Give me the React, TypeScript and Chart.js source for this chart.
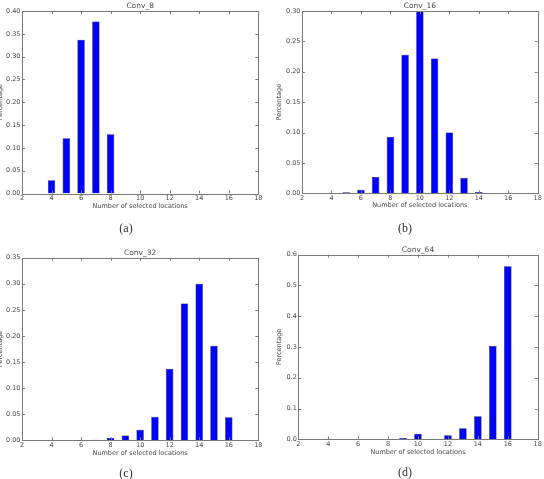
import React, { useEffect, useRef } from "react";
import { Chart, registerables } from "chart.js";

Chart.register(...registerables);

// ---- data ----
const locations = [4, 5, 6, 7, 8, 9, 10, 11, 12, 13, 14, 15, 16];
const conv8 = [0.029, 0.121, 0.337, 0.377, 0.13, 0, 0, 0, 0, 0, 0, 0, 0];
const conv16 = [0.0005, 0.0016, 0.006, 0.027, 0.093, 0.228, 0.3, 0.222, 0.1, 0.025, 0.002, 0, 0];
const conv32 = [0.0005, 0, 0.0005, 0.001, 0.004, 0.009, 0.02, 0.045, 0.137, 0.262, 0.3, 0.181, 0.044];
const conv64 = [0.002, 0, 0, 0, 0.001, 0.004, 0.018, 0.002, 0.013, 0.036, 0.075, 0.303, 0.5625];

const xTicks = [2, 4, 6, 8, 10, 12, 14, 16, 18];
const yTicks8 = [0, 0.05, 0.1, 0.15, 0.2, 0.25, 0.3, 0.35, 0.4];
const yTicks16 = [0, 0.05, 0.1, 0.15, 0.2, 0.25, 0.3];
const yTicks32 = [0, 0.05, 0.1, 0.15, 0.2, 0.25, 0.3, 0.35];
const yTicks64 = [0, 0.1, 0.2, 0.3, 0.4, 0.5, 0.6];

const titles = ["Conv_8", "Conv_16", "Conv_32", "Conv_64"];
const captions = ["(a)", "(b)", "(c)", "(d)"];
const xTitle = "Number of selected locations";
const yTitle = "Percentage";

// ---- styles ----
const FONT = "'DejaVu Sans', sans-serif";
const TXT = "#4a4a4a";
const FRAME = "#7a7a7a";
const BAR = "#0000ff";

type Panel = {
  title: string;
  values: number[];
  yTicks: number[];
  decimals: number;
  canvas: { x: number; y: number; w: number; h: number };
  yW: number;
  padRight: number;
  padTop: number;
  titleGap: number;
  xH: number;
  padBottom: number;
  yTitlePad: number;
  caption: string;
  captionX: number;
  captionY: number;
};

const panels: Panel[] = [
  {
    title: titles[0], values: conv8, yTicks: yTicks8, decimals: 2,
    canvas: { x: 0, y: 0, w: 272, h: 240 },
    yW: 22, padRight: 13.7, padTop: 1.5, titleGap: 0.5, xH: 17, padBottom: 29.5, yTitlePad: -3.4,
    caption: captions[0], captionX: 126, captionY: 228,
  },
  {
    title: titles[1], values: conv16, yTicks: yTicks16, decimals: 2,
    canvas: { x: 272, y: 0, w: 272, h: 240 },
    yW: 30, padRight: 6.3, padTop: 1.2, titleGap: 0.8, xH: 17, padBottom: 29.7, yTitlePad: 3.6,
    caption: captions[1], captionX: 405, captionY: 228,
  },
  {
    title: titles[2], values: conv32, yTicks: yTicks32, decimals: 2,
    canvas: { x: 0, y: 240, w: 272, h: 239 },
    yW: 22, padRight: 13.7, padTop: 8.2, titleGap: 0.5, xH: 17.8, padBottom: 21, yTitlePad: -3.4,
    caption: captions[2], captionX: 126, captionY: 473,
  },
  {
    title: titles[3], values: conv64, yTicks: yTicks64, decimals: 1,
    canvas: { x: 272, y: 240, w: 272, h: 239 },
    yW: 26.3, padRight: 6.3, padTop: 5.5, titleGap: 0.2, xH: 17.8, padBottom: 21.9, yTitlePad: 3.4,
    caption: captions[3], captionX: 405, captionY: 472,
  },
];

const framePlugin = {
  id: "mplFrame",
  afterDraw(chart: any) {
    const { ctx, chartArea: a, scales } = chart;
    const len = 3;
    ctx.save();
    ctx.strokeStyle = FRAME;
    ctx.lineWidth = 1;
    ctx.beginPath();
    scales.x.ticks.forEach((t: any) => {
      const px = Math.round(scales.x.getPixelForValue(t.value)) + 0.5;
      ctx.moveTo(px, a.bottom);
      ctx.lineTo(px, a.bottom - len);
      ctx.moveTo(px, a.top);
      ctx.lineTo(px, a.top + len);
    });
    scales.y.ticks.forEach((t: any) => {
      const py = Math.round(scales.y.getPixelForValue(t.value)) + 0.5;
      ctx.moveTo(a.left, py);
      ctx.lineTo(a.left + len, py);
      ctx.moveTo(a.right, py);
      ctx.lineTo(a.right - len, py);
    });
    ctx.stroke();
    ctx.strokeRect(
      Math.round(a.left) + 0.5,
      Math.round(a.top) + 0.5,
      Math.round(a.right) - Math.round(a.left),
      Math.round(a.bottom) - Math.round(a.top)
    );
    ctx.restore();
  },
};

function BarPanel({ p }: { p: Panel }) {
  const ref = useRef<HTMLCanvasElement>(null);
  useEffect(() => {
    if (!ref.current) return;
    const tickFont = { family: FONT, size: 6.5 };
    const chart = new Chart(ref.current, {
      type: "bar",
      data: {
        datasets: [
          {
            data: locations.map((x, i) => ({ x, y: p.values[i] })),
            backgroundColor: BAR,
            borderColor: "#000000",
            borderWidth: 0.5,
            categoryPercentage: 1,
            barPercentage: 0.5,
          },
        ],
      },
      options: {
        responsive: false,
        animation: false,
        events: [],
        layout: { padding: { left: 0, right: p.padRight, top: p.padTop, bottom: p.padBottom } },
        plugins: {
          legend: { display: false },
          tooltip: { enabled: false },
          title: {
            display: true,
            text: p.title,
            color: TXT,
            fullSize: false,
            font: { family: FONT, size: 7.5, weight: "normal" },
            padding: { top: 0, bottom: p.titleGap },
          },
        },
        scales: {
          x: {
            type: "linear",
            min: 2,
            max: 18,
            offset: false,
            grid: { display: false, drawTicks: false },
            border: { display: false },
            afterBuildTicks: (s: any) => {
              s.ticks = xTicks.map((v) => ({ value: v }));
            },
            afterFit: (s: any) => {
              s.height = p.xH;
            },
            ticks: {
              autoSkip: false,
              maxRotation: 0,
              padding: 1,
              color: TXT,
              font: tickFont,
              callback: (v: any) => String(v),
            },
            title: {
              display: true,
              text: xTitle,
              color: TXT,
              font: tickFont,
              padding: { top: 0, bottom: 0.6 },
            },
          },
          y: {
            type: "linear",
            min: 0,
            max: p.yTicks[p.yTicks.length - 1],
            grid: { display: false, drawTicks: false },
            border: { display: false },
            afterBuildTicks: (s: any) => {
              s.ticks = p.yTicks.map((v) => ({ value: v }));
            },
            afterFit: (s: any) => {
              s.width = p.yW;
            },
            ticks: {
              autoSkip: false,
              padding: 1.5,
              color: TXT,
              font: tickFont,
              callback: (v: any) => Number(v).toFixed(p.decimals),
            },
            title: {
              display: true,
              text: yTitle,
              color: TXT,
              font: tickFont,
              padding: { top: p.yTitlePad, bottom: 0 },
            },
          },
        },
      } as any,
      plugins: [framePlugin],
    });
    return () => chart.destroy();
  }, [p]);
  return (
    <canvas
      ref={ref}
      width={p.canvas.w}
      height={p.canvas.h}
      style={{
        position: "absolute",
        left: p.canvas.x,
        top: p.canvas.y,
        width: p.canvas.w,
        height: p.canvas.h,
      }}
    />
  );
}

export default function App() {
  return (
    <div
      style={{
        position: "absolute",
        left: 0,
        top: 0,
        width: 544,
        height: 479,
        background: "#ffffff",
        overflow: "hidden",
      }}
    >
      {panels.map((p) => (
        <BarPanel key={p.title} p={p} />
      ))}
      {panels.map((p) => (
        <div
          key={p.caption}
          style={{
            position: "absolute",
            left: p.captionX - 30,
            top: p.captionY - 7,
            width: 60,
            textAlign: "center",
            fontFamily: "'Liberation Serif', 'Times New Roman', serif",
            fontSize: 12,
            lineHeight: "14px",
            color: "#333",
          }}
        >
          {p.caption}
        </div>
      ))}
    </div>
  );
}
